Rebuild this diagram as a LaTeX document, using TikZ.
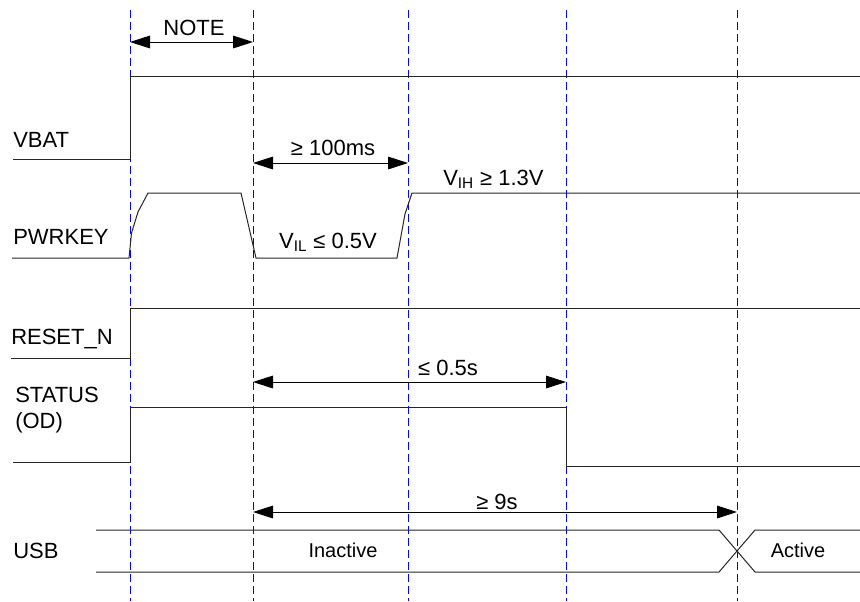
\documentclass[tikz,border=0pt]{standalone}
\usepackage{fontspec}
\setmainfont{Liberation Sans}
\usetikzlibrary{arrows.meta}
\tikzset{
  signal/.style={line width=0.75pt, black!85},
  marker/.style={blue, line width=0.75pt, dash pattern=on 6pt off 3pt},
  dim/.style={{Triangle[length=15pt,width=9.5pt]}-{Triangle[length=15pt,width=9.5pt]},
              line width=0.75pt, black},
  lbl/.style={anchor=base west, inner sep=0pt, font=\fontsize{16.5}{19}\selectfont},
  value/.style={anchor=base, inner sep=0pt, font=\fontsize{16.5}{19}\selectfont},
  state/.style={anchor=base, inner sep=0pt, font=\fontsize{15}{17}\selectfont},
}

\begin{document}
\begin{tikzpicture}[x=0.75pt, y=-0.75pt]
  \useasboundingbox (0,0) rectangle (860,601);

  % time markers
  \foreach \n/\x in {0/130,1/253,2/408,3/566,4/737}{
    \coordinate (t\n) at (\x,10);
    \draw[marker] (t\n) -- (\x,601);
  }

  % signals
  \node[lbl] (vbat) at (13,147) {VBAT};
  \draw[signal] (13,159) -- (130,159) -- (130,76) -- (860,76);

  \node[lbl] (pwrkey) at (13,244) {PWRKEY};
  \draw[signal] (12,258) -- (129,258) -- (131.5,233) -- (138,212) -- (148,193)
                -- (241,193) -- (256,258) -- (397,258) -- (405,214) -- (412,193)
                -- (860,193);

  \node[lbl] (reset) at (11,344) {RESET\_N};
  \draw[signal] (11,358) -- (130,358) -- (130,308) -- (860,308);

  \node[lbl, align=left] (status) at (15,428) {STATUS\\(OD)};
  \draw[signal] (13,462) -- (130,462) -- (130,407) -- (566,407) -- (566,466)
                -- (860,466);

  \node[lbl] (usb) at (13,558) {USB};
  \draw[signal] (96,530) -- (719,530) -- (755,572) -- (860,572);
  \draw[signal] (96,572) -- (719,572) -- (755,530) -- (860,530);
  \node[state] (inactive) at (343,557) {Inactive};
  \node[state] (active) at (798,557) {Active};

  % timing
  \draw[dim] (t0 |- 0,42) -- (t1 |- 0,42);
  \node[value] (note) at (194,35) {NOTE};
  \draw[dim] (t1 |- 0,163) -- (t2 |- 0,163);
  \node[value] (tlow) at (333,155) {≥ 100ms};
  \node[lbl] (vih) at (443,185) {V\textsubscript{IH} ≥ 1.3V};
  \node[value] (vil) at (328,248) {V\textsubscript{IL} ≤ 0.5V};
  \draw[dim] (t1 |- 0,382) -- (t3 |- 0,382);
  \node[value] (tstat) at (448,375) {≤ 0.5s};
  \draw[dim] (t1 |- 0,512) -- (t4 |- 0,512);
  \node[value] (tusb) at (497,509) {≥ 9s};
\end{tikzpicture}
\end{document}
